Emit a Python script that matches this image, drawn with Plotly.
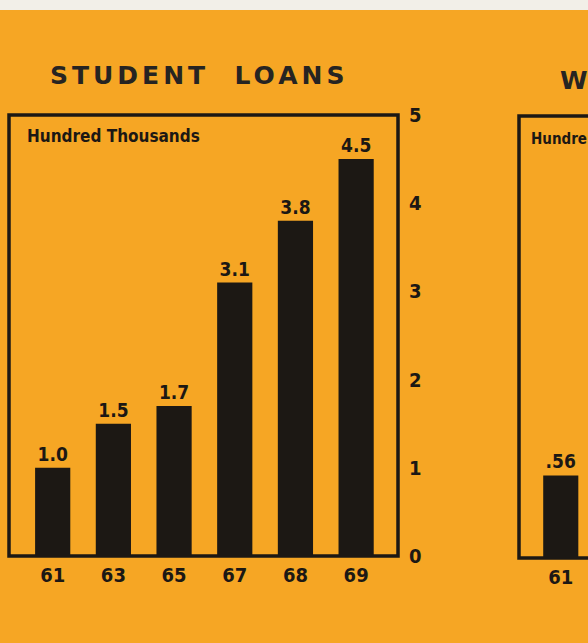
import plotly.graph_objects as go

# ---- data ----
years = ["61", "63", "65", "67", "68", "69"]
loans = [1.0, 1.5, 1.7, 3.1, 3.8, 4.5]
loan_labels = ["1.0", "1.5", "1.7", "3.1", "3.8", "4.5"]
y_ticks = [0, 1, 2, 3, 4, 5]

years2 = ["61"]
values2 = [0.56]
labels2 = [".56"]

title1 = "STUDENT\u00a0\u00a0LOANS"
title2 = "W"
unit_text = "Hundred Thousands"
unit_text2 = "Hundre"

# ---- style ----
W, H = 588, 643
BG = "#F6A624"
INK = "#1c1814"
COND = "DejaVu Sans Condensed, DejaVu Sans, sans-serif"

def px(x):
    return x / W

def py(y):
    return 1 - y / H

fig = go.Figure()

fig.add_trace(go.Bar(
    x=years, y=loans, text=loan_labels, textposition="outside",
    textfont=dict(family=COND, size=19, color=INK, weight="bold"),
    marker=dict(color=INK, line=dict(width=0)), width=0.58,
    cliponaxis=False, xaxis="x", yaxis="y", hoverinfo="skip",
))

fig.add_trace(go.Bar(
    x=years2, y=values2, text=labels2, textposition="outside",
    textfont=dict(family=COND, size=19, color=INK, weight="bold"),
    marker=dict(color=INK, line=dict(width=0)), width=0.58,
    cliponaxis=False, xaxis="x2", yaxis="y2", hoverinfo="skip",
))

tickfont = dict(family=COND, size=20, color=INK, weight="bold")

fig.update_layout(
    width=W, height=H, autosize=False,
    margin=dict(l=0, r=0, t=0, b=0, pad=0, autoexpand=False),
    paper_bgcolor=BG, plot_bgcolor=BG,
    showlegend=False,
    xaxis=dict(domain=[px(9), px(398)], type="category", categoryorder="array",
               categoryarray=years, range=[-0.72, 5.69], showgrid=False,
               zeroline=False, showline=False, ticks="", tickfont=tickfont,
               ticklabelstandoff=5, anchor="y", automargin=False, fixedrange=True),
    yaxis=dict(domain=[py(556), py(115)], range=[0, 5], tickvals=y_ticks,
               side="right", showgrid=False, zeroline=False, showline=False,
               ticks="", tickfont=tickfont, ticklabelstandoff=10, anchor="x",
               automargin=False, fixedrange=True),
    xaxis2=dict(domain=[px(519), 1], type="category", range=[-0.69, 0.45],
                showgrid=False, zeroline=False, showline=False, ticks="",
                tickfont=tickfont, ticklabelstandoff=5, anchor="y2",
                automargin=False, fixedrange=True),
    yaxis2=dict(domain=[py(558), py(116)], range=[0, 3], showgrid=False,
                zeroline=False, showline=False, showticklabels=False,
                anchor="x2", automargin=False, fixedrange=True),
)

# frames around the two charts
fig.add_shape(type="rect", xref="x domain", yref="y domain", x0=0, x1=1, y0=0, y1=1,
              line=dict(color=INK, width=3.5), layer="above")
fig.add_shape(type="rect", xref="x2 domain", yref="y2 domain", x0=0, x1=1.2, y0=0, y1=1,
              line=dict(color=INK, width=3.5), layer="above")
# pale strip along the top edge
fig.add_shape(type="rect", xref="paper", yref="paper", x0=0, x1=1,
              y0=py(10), y1=1, line=dict(width=0), fillcolor="#F2EFE8", layer="above")

fig.add_annotation(text=title1, xref="paper", yref="paper", x=px(199), y=py(76),
                   xanchor="center", yanchor="middle", showarrow=False,
                   font=dict(family="DejaVu Sans", size=25, color="#262422", weight="bold"))
fig.add_annotation(text=title2, xref="paper", yref="paper", x=px(558), y=py(80),
                   xanchor="left", yanchor="middle", showarrow=False,
                   font=dict(family="DejaVu Sans", size=25, color="#262422", weight="bold"))
fig.add_annotation(text=unit_text, xref="paper", yref="paper", x=px(25), y=py(136),
                   xanchor="left", yanchor="middle", showarrow=False,
                   font=dict(family=COND, size=17, color=INK, weight="bold"))
fig.add_annotation(text=unit_text2, xref="paper", yref="paper", x=px(529), y=py(139),
                   xanchor="left", yanchor="middle", showarrow=False,
                   font=dict(family=COND, size=15, color=INK, weight="bold"))

post = """
document.body.style.margin = '0';
document.documentElement.style.overflow = 'hidden';
var gd = document.getElementById('{plot_id}');
function spaceTitle() {
  gd.querySelectorAll('.annotation-text').forEach(function (t) {
    if (t.textContent.indexOf('LOANS') >= 0) { t.style.letterSpacing = '4px'; }
  });
}
spaceTitle();
if (gd.on) { gd.on('plotly_afterplot', spaceTitle); }
"""

fig.write_html("out.html", post_script=post,
               config={"displayModeBar": False, "staticPlot": True})
